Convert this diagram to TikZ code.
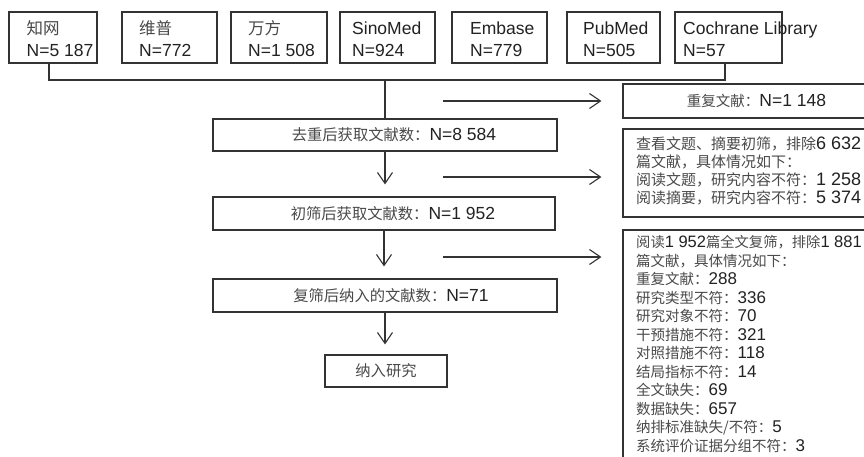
\documentclass[tikz,border=0pt]{standalone}
\usepackage{fontspec}
\setmainfont{Liberation Sans}
\newfontfamily\cjk{Noto Sans CJK SC}
\usetikzlibrary{arrows.meta}
\definecolor{linec}{HTML}{333333}
\definecolor{textc}{HTML}{222222}
\definecolor{zhc}{HTML}{4A4A4A}
\newcommand\zhA[1]{{\cjk\color{zhc}\fontsize{16.5}{22}\selectfont #1}}
\newcommand\zhB[1]{{\cjk\color{zhc}\fontsize{15.3}{18}\selectfont #1}}
\newcommand\zhC[1]{{\cjk\color{zhc}\fontsize{14.5}{18.5}\selectfont #1}}
\newcommand\zhD[1]{{\cjk\color{zhc}\fontsize{14.3}{18.5}\selectfont #1}}
\tikzset{
  box/.style={draw=linec, line width=1.1pt, inner sep=0pt, fill=white, text=textc},
  toptext/.style={inner sep=0pt, anchor=base west, text=textc, font=\fontsize{17.5}{22}\selectfont},
  midtext/.style={font=\fontsize{17.5}{18}\selectfont},
  sidetext/.style={inner sep=0pt, anchor=north west, align=left, text=textc, font=\fontsize{17}{18.5}\selectfont},
  conn/.style={draw=linec, line width=1.1pt},
  arr/.style={draw=linec, line width=1.1pt, -{Straight Barb[length=11pt,width=15pt]}},
}
\begin{document}
\begin{tikzpicture}[x=1pt,y=-1pt]
\useasboundingbox (0,0) rectangle (864,457);
\clip (0,0) rectangle (864,457);
% top database boxes
\node[box, minimum width=88, minimum height=51] (b1) at (53,37.5) {};
\node[box, minimum width=95, minimum height=51] (b2) at (169.5,37.5) {};
\node[box, minimum width=96, minimum height=51] (b3) at (279,37.5) {};
\node[box, minimum width=95, minimum height=51] (b4) at (387.5,37.5) {};
\node[box, minimum width=95, minimum height=51] (b5) at (499.5,37.5) {};
\node[box, minimum width=93, minimum height=51] (b6) at (613.5,37.5) {};
\node[box, minimum width=107, minimum height=51] (b7) at (728.5,37.5) {};
\node[toptext] (t1a) at (26.5,35) {\zhA{知网}};
\node[toptext] (t1b) at (26.5,57) {N=5 187};
\node[toptext] (t2a) at (139,35) {\zhA{维普}};
\node[toptext] (t2b) at (139,57) {N=772};
\node[toptext] (t3a) at (248,35) {\zhA{万方}};
\node[toptext] (t3b) at (248,57) {N=1 508};
\node[toptext] (t4a) at (352,35) {SinoMed};
\node[toptext] (t4b) at (352,57) {N=924};
\node[toptext] (t5a) at (470,35) {Embase};
\node[toptext] (t5b) at (470,57) {N=779};
\node[toptext] (t6a) at (583,35) {PubMed};
\node[toptext] (t6b) at (583,57) {N=505};
\node[toptext] (t7a) at (683,35) {Cochrane Library};
\node[toptext] (t7b) at (683,57) {N=57};
% main column
\node[box, midtext, minimum width=344, minimum height=32] (m1) at (385,135) {\hspace*{18pt}\zhB{去重后获取文献数：}N=8 584};
\node[box, midtext, minimum width=342, minimum height=33] (m2) at (384,213.5) {\hspace*{18pt}\zhB{初筛后获取文献数：}N=1 952};
\node[box, midtext, minimum width=344, minimum height=33] (m3) at (385,295.5) {\hspace*{12pt}\zhB{复筛后纳入的文献数：}N=71};
\node[box, midtext, minimum width=122, minimum height=32] (m4) at (386,371) {\zhB{纳入研究}};
% right boxes
\node[box, midtext, minimum width=267, minimum height=34] (r1) at (756.5,101) {\zhC{重复文献：}N=1 148};
\node[box, minimum width=285, minimum height=88] (r2) at (765.5,173) {};
\node[box, minimum width=285, minimum height=240] (r3) at (765.5,350) {};
\node[sidetext, font=\fontsize{18}{18}\selectfont] (s2) at (636,137) {{\cjk\color{zhc}\fontsize{15}{18}\selectfont 查看文题、摘要初筛，排除}6 632\\
{\cjk\color{zhc}\fontsize{15}{18}\selectfont 篇文献，具体情况如下：}\\
{\cjk\color{zhc}\fontsize{15}{18}\selectfont 阅读文题，研究内容不符：}1 258\\
{\cjk\color{zhc}\fontsize{15}{18}\selectfont 阅读摘要，研究内容不符：}5 374};
\node[sidetext] (s3) at (636,235.5) {\zhD{阅读}{\fontsize{16.5}{18.5}\selectfont 1 952}\zhD{篇全文复筛，排除}{\fontsize{16.5}{18.5}\selectfont 1 881}\\
\zhC{篇文献，具体情况如下：}\\
\zhC{重复文献：}288\\
\zhC{研究类型不符：}336\\
\zhC{研究对象不符：}70\\
\zhC{干预措施不符：}321\\
\zhC{对照措施不符：}118\\
\zhC{结局指标不符：}14\\
\zhC{全文缺失：}69\\
\zhC{数据缺失：}657\\
\zhC{纳排标准缺失/不符：}5\\
\zhC{系统评价证据分组不符：}3};
% connectors
\coordinate (jl) at (49,80);
\coordinate (jr) at (725,80);
\coordinate (jm) at (385,80);
\draw[conn] ([xshift=-4pt]b1.south) -- (jl) -- (jr) -- ([xshift=-3.5pt]b7.south);
\draw[conn] (jm) -- (jm |- m1.north);
\draw[arr, shorten >=12pt] (m1.south) -- (m1.south |- m2.north);
\draw[arr, shorten >=12pt] (m2.south) -- (m2.south |- m3.north);
\draw[arr, shorten >=10pt] (m3.south) -- (m3.south |- m4.north);
\coordinate (h1) at (443,101);
\coordinate (h2) at (443,177);
\coordinate (h3) at (443,257);
\draw[arr, shorten >=21pt] (h1) -- (h1 -| r1.west);
\draw[arr, shorten >=21pt] (h2) -- (h2 -| r2.west);
\draw[arr, shorten >=21pt] (h3) -- (h3 -| r3.west);
\end{tikzpicture}
\end{document}
